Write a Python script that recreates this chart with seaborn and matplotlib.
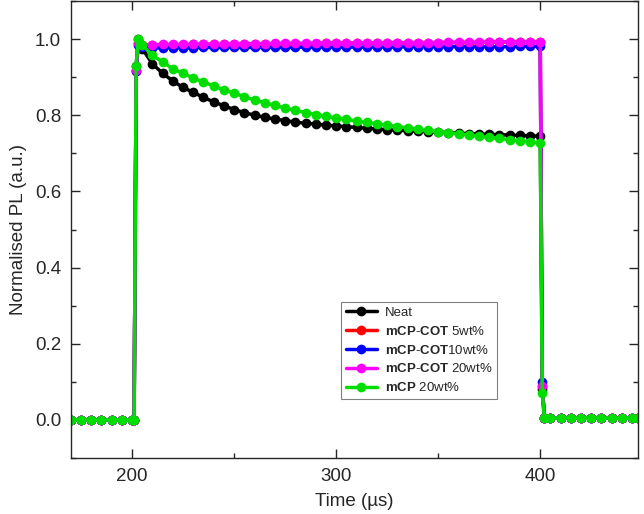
import numpy as np
import pandas as pd
import matplotlib
matplotlib.use("Agg")
import matplotlib.pyplot as plt
import seaborn as sns
from matplotlib.ticker import MultipleLocator

# time axis (microseconds): before pulse, during pulse, after pulse
time_pre = [170, 175, 180, 185, 190, 195, 200, 201]
level_pre = [0.0, 0.0, 0.0, 0.0, 0.0, 0.0, 0.0, 0.0]

time_pulse = [202, 203,
              205, 210, 215, 220, 225, 230, 235, 240, 245, 250,
              255, 260, 265, 270, 275, 280, 285, 290, 295, 300,
              305, 310, 315, 320, 325, 330, 335, 340, 345, 350,
              355, 360, 365, 370, 375, 380, 385, 390, 395, 400,
              401]

time_post = [402, 405, 410, 415, 420, 425, 430, 435, 440, 445, 448]
level_post = [0.006, 0.005, 0.005, 0.005, 0.005, 0.005, 0.005, 0.005, 0.005, 0.005, 0.005]

# normalised PL during the pulse
neat = [0.93, 1.0,
        0.975, 0.935, 0.91, 0.89, 0.873, 0.86, 0.847, 0.835, 0.825, 0.815,
        0.807, 0.80, 0.795, 0.79, 0.786, 0.782, 0.779, 0.777, 0.774, 0.772,
        0.770, 0.768, 0.766, 0.764, 0.762, 0.761, 0.759, 0.758, 0.757, 0.756,
        0.754, 0.753, 0.752, 0.751, 0.750, 0.749, 0.748, 0.747, 0.746, 0.745,
        0.08]
cot_5 = [0.915, 0.99,
         0.984, 0.984, 0.985, 0.985, 0.985, 0.986, 0.986, 0.986, 0.986, 0.987,
         0.987, 0.987, 0.987, 0.988, 0.988, 0.988, 0.988, 0.988, 0.989, 0.989,
         0.989, 0.989, 0.989, 0.99, 0.99, 0.99, 0.99, 0.99, 0.99, 0.991,
         0.991, 0.991, 0.991, 0.991, 0.992, 0.992, 0.992, 0.992, 0.992, 0.992,
         0.09]
cot_10 = [0.915, 0.985,
          0.978, 0.977, 0.977, 0.977, 0.977, 0.977, 0.978, 0.978, 0.978, 0.978,
          0.978, 0.978, 0.978, 0.978, 0.978, 0.978, 0.979, 0.979, 0.979, 0.979,
          0.979, 0.979, 0.979, 0.979, 0.979, 0.979, 0.98, 0.98, 0.98, 0.98,
          0.98, 0.98, 0.98, 0.98, 0.98, 0.98, 0.98, 0.981, 0.981, 0.981,
          0.10]
cot_20 = [0.92, 0.99,
          0.985, 0.985, 0.986, 0.986, 0.986, 0.987, 0.987, 0.987, 0.987, 0.988,
          0.988, 0.988, 0.988, 0.989, 0.989, 0.989, 0.989, 0.989, 0.99, 0.99,
          0.99, 0.99, 0.99, 0.99, 0.991, 0.991, 0.991, 0.991, 0.991, 0.991,
          0.992, 0.992, 0.992, 0.992, 0.992, 0.993, 0.993, 0.993, 0.993, 0.993,
          0.09]
mcp_20 = [0.93, 1.0,
          0.985, 0.957, 0.94, 0.922, 0.91, 0.898, 0.887, 0.877, 0.867, 0.858,
          0.849, 0.84, 0.833, 0.826, 0.819, 0.813, 0.807, 0.802, 0.797, 0.793,
          0.789, 0.785, 0.781, 0.778, 0.774, 0.77, 0.767, 0.763, 0.760, 0.757,
          0.754, 0.751, 0.748, 0.745, 0.742, 0.739, 0.736, 0.733, 0.730, 0.728,
          0.07]

samples = ["Neat", "mCP-COT 5wt%", "mCP-COT 10wt%", "mCP-COT 20wt%", "mCP 20wt%"]
series = [neat, cot_5, cot_10, cot_20, mcp_20]
colors = ["#000000", "#ff0000", "#0000ff", "#ff00ff", "#00dd00"]
legend_labels = ["Neat",
                 r"$\mathbf{mCP}$-$\mathbf{COT}$ 5wt%",
                 r"$\mathbf{mCP}$-$\mathbf{COT}$10wt%",
                 r"$\mathbf{mCP}$-$\mathbf{COT}$ 20wt%",
                 r"$\mathbf{mCP}$ 20wt%"]

rows = []
for name, vals in zip(samples, series):
    t = time_pre + time_pulse + time_post
    v = level_pre + vals + level_post
    rows.append(pd.DataFrame({"time": t, "pl": v, "sample": name}))
df = pd.concat(rows, ignore_index=True)

sns.set_style("ticks")
plt.rcParams["font.family"] = ["Liberation Sans", "DejaVu Sans"]
plt.rcParams["mathtext.fontset"] = "custom"
plt.rcParams["mathtext.rm"] = "Liberation Sans"
plt.rcParams["mathtext.bf"] = "Liberation Sans:bold"

fig, ax = plt.subplots(figsize=(6.44, 5.14), dpi=100)
fig.subplots_adjust(left=0.110, right=0.991, bottom=0.109, top=0.998)

sns.lineplot(data=df, x="time", y="pl", hue="sample", hue_order=samples,
             palette=dict(zip(samples, colors)), marker="o", markersize=7,
             markeredgewidth=0, linewidth=2.5, estimator=None, sort=False, ax=ax)

ax.set_xlim(170, 448)
ax.set_ylim(-0.1, 1.1)
ax.xaxis.set_major_locator(MultipleLocator(100))
ax.xaxis.set_minor_locator(MultipleLocator(50))
ax.yaxis.set_major_locator(MultipleLocator(0.2))
ax.yaxis.set_minor_locator(MultipleLocator(0.1))
ax.yaxis.set_major_formatter(matplotlib.ticker.FormatStrFormatter("%.1f"))
ax.tick_params(which="both", direction="in", top=True, right=True, width=1)
ax.tick_params(which="major", length=6.5, labelsize=13.5, pad=7)
ax.tick_params(which="minor", length=3.5)
for s in ax.spines.values():
    s.set_linewidth(1.0)
    s.set_visible(True)

ax.set_xlabel("Time (\u00b5s)", fontsize=13.5, labelpad=6)
ax.set_ylabel("Normalised PL (a.u.)", fontsize=13.5, labelpad=6)

handles, _ = ax.get_legend_handles_labels()
leg = ax.legend(handles, legend_labels, loc="lower left",
                bbox_to_anchor=(0.476, 0.129), borderaxespad=0,
                fontsize=9.5, labelspacing=0.45, handlelength=2.4,
                handletextpad=0.6, borderpad=0.35, fancybox=False,
                framealpha=1, edgecolor="#808080")
leg.get_frame().set_linewidth(0.8)

fig.savefig("out.png", dpi=100)
